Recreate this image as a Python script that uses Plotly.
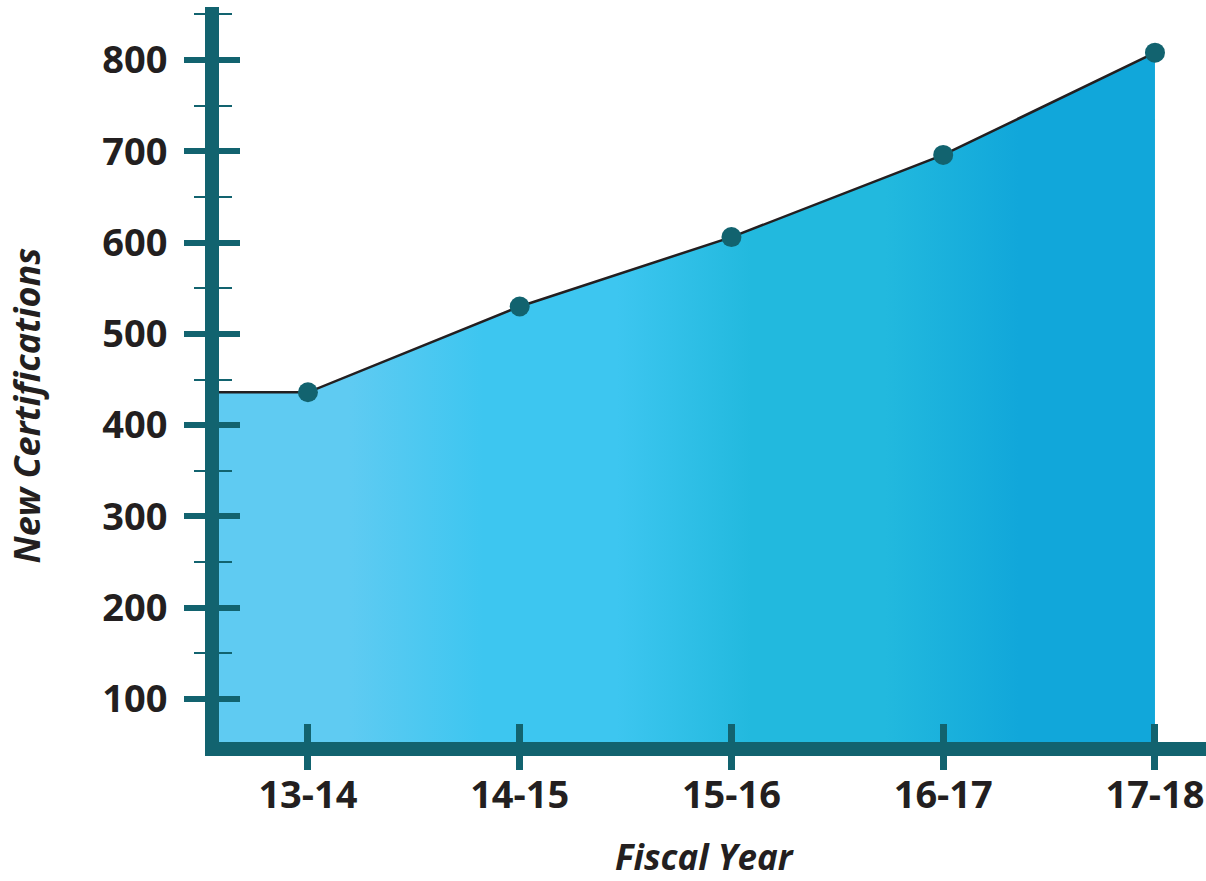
import plotly.graph_objects as go

# ---- data ----
years = ["13-14", "14-15", "15-16", "16-17", "17-18"]
certs = [436, 530, 606, 696, 808]
y_ticks = [100, 200, 300, 400, 500, 600, 700, 800]
y_tick_labels = [str(v) for v in y_ticks]
x_title = "Fiscal Year"
y_title = "New Certifications"

# ---- style ----
TEAL = "#12636f"
LINE = "#231f20"
FONT = "Open Sans"

x_range = [-0.42, 4.241]
y_range = [53, 858]

idx = list(range(len(years)))
fill_x = [x_range[0]] + idx
fill_y = [certs[0]] + certs

grad = [
    [0.0, "#5fcbf2"], [0.138, "#5fcbf2"],
    [0.282, "#3dc6f0"], [0.425, "#3dc6f0"],
    [0.569, "#22b9de"], [0.712, "#22b9de"],
    [0.855, "#11a7da"], [1.0, "#11a7da"],
]

fig = go.Figure()
fig.add_trace(go.Scatter(
    x=fill_x, y=fill_y, mode="lines",
    line=dict(color=LINE, width=2.5),
    fill="tozeroy",
    fillgradient=dict(type="horizontal", colorscale=grad),
    hoverinfo="skip", showlegend=False,
))
fig.add_trace(go.Scatter(
    x=idx, y=certs, mode="markers",
    marker=dict(size=20, color=TEAL),
    xaxis="x2", yaxis="y2", showlegend=False,
    hovertemplate="%{text}: %{y}<extra></extra>", text=years,
))

tickfont = dict(family=FONT, size=38, color=LINE, weight="bold")

fig.update_layout(
    width=1206, height=881,
    margin=dict(l=219, r=0, t=7, b=139),
    plot_bgcolor="white", paper_bgcolor="white",
    xaxis=dict(
        range=x_range, tickvals=idx, ticktext=years,
        showgrid=False, zeroline=False, automargin=False,
        showline=True, linewidth=14, linecolor=TEAL,
        ticks="outside", ticklen=14, tickwidth=7, tickcolor=TEAL,
        tickfont=tickfont, ticklabelstandoff=-8,
    ),
    yaxis=dict(
        range=y_range, tickvals=y_ticks, ticktext=y_tick_labels,
        showgrid=False, zeroline=False, automargin=False,
        showline=True, linewidth=14, linecolor=TEAL,
        ticks="outside", ticklen=21, tickwidth=6, tickcolor=TEAL,
        minor=dict(ticks="outside", ticklen=11, tickwidth=2, tickcolor=TEAL,
                   tick0=50, dtick=100, showgrid=False),
        tickfont=tickfont, ticklabelstandoff=9,
    ),
    xaxis2=dict(
        range=x_range, overlaying="x", anchor="y2", side="bottom",
        tickvals=idx, showticklabels=False, automargin=False,
        showgrid=False, zeroline=False, showline=False,
        ticks="inside", ticklen=18, tickwidth=7, tickcolor=TEAL,
    ),
    yaxis2=dict(
        range=y_range, overlaying="y", anchor="x2", side="left",
        tickvals=y_ticks, showticklabels=False, automargin=False,
        showgrid=False, zeroline=False, showline=False,
        ticks="inside", ticklen=21, tickwidth=6, tickcolor=TEAL,
        minor=dict(ticks="inside", ticklen=13, tickwidth=2, tickcolor=TEAL,
                   tick0=50, dtick=100, showgrid=False),
    ),
    annotations=[
        dict(text=y_title, textangle=-90, showarrow=False,
             xref="paper", yref="paper", x=0, y=0.4578,
             xanchor="center", yanchor="middle", xshift=-192,
             font=dict(family=FONT, size=36, color=LINE, weight="bold", style="italic")),
        dict(text=x_title, showarrow=False,
             xref="paper", yref="paper", x=0.4924, y=0,
             xanchor="center", yanchor="middle", yshift=-114,
             font=dict(family=FONT, size=35, color=LINE, weight="bold", style="italic")),
    ],
)

fig.write_html("out.html", config={"displayModeBar": False},
               post_script="document.body.style.margin='0';")
